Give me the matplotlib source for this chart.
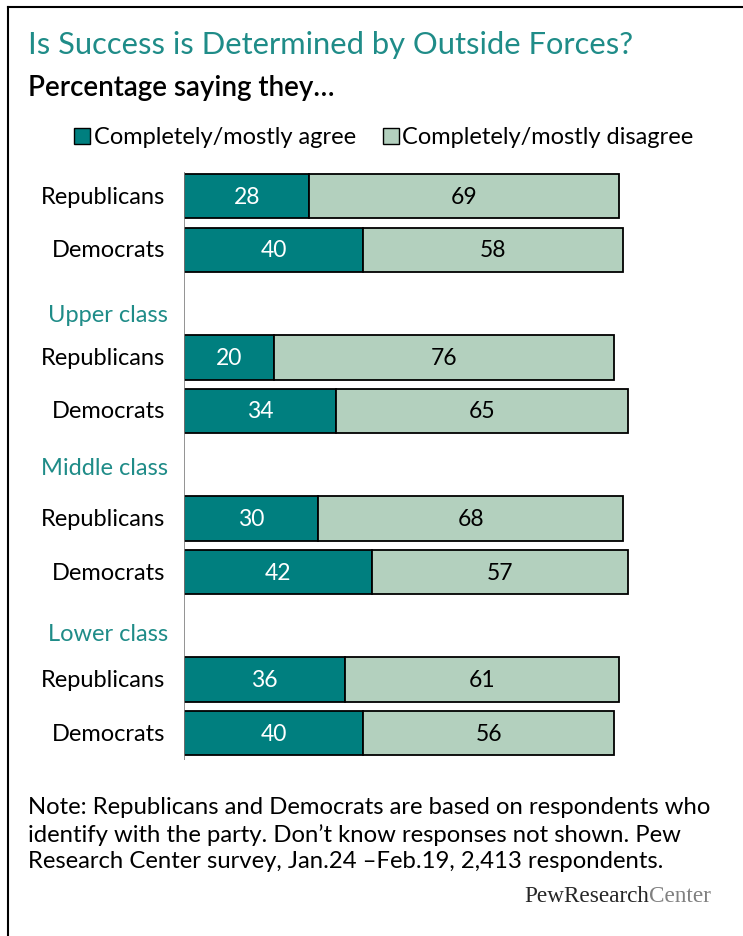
import matplotlib.pyplot as plt
from matplotlib.patches import Rectangle
from matplotlib.lines import Line2D

plt.rcParams['font.family'] = ['Lato', 'DejaVu Sans']

# Data
groups = ['', 'Upper class', 'Middle class', 'Lower class']
parties = ['Republicans', 'Democrats']
agree = [28, 40, 20, 34, 30, 42, 36, 40]
disagree = [69, 58, 76, 65, 68, 57, 61, 56]

teal = '#007f7f'
light = '#b3d0be'
head_color = '#1f8c88'

# row positions: two bars per group, one empty row for the group header
rows = [0, 1, 3, 4, 6, 7, 9, 10]
header_rows = [2.2, 5.05, 8.15]

fig = plt.figure(figsize=(7.43, 9.37), dpi=100)
ax = fig.add_axes([184 / 743, 1 - 761 / 937, 448 / 743, 588 / 937])

ax.barh(rows, agree, height=0.83, color=teal, edgecolor='black', linewidth=1.3)
ax.barh(rows, disagree, left=agree, height=0.83, color=light, edgecolor='black', linewidth=1.3)

for y, a, d in zip(rows, agree, disagree):
    ax.text(a / 2, y, str(a), ha='center', va='center', color='white', fontsize=16.5)
    ax.text(a + d / 2, y, str(d), ha='center', va='center', color='black', fontsize=16.5)

labels = parties * 4
for y, lab in zip(rows, labels):
    ax.text(-4.2, y, lab, ha='right', va='center', fontsize=17, color='black')
for y, lab in zip(header_rows, groups[1:]):
    ax.text(-3.6, y, lab, ha='right', va='center', fontsize=17, color=head_color)

ax.set_xlim(0, 100)
ax.set_ylim(10.5, -0.45)
ax.axis('off')
ax.axvline(0, color='#808080', linewidth=1.2)

# title and subtitle
fig.text(28 / 743, 1 - 45 / 937, 'Is Success is Determined by Outside Forces?',
         fontsize=22.2, color=head_color, va='center', ha='left')
fig.text(28 / 743, 1 - 88 / 937, 'Percentage saying they\u2026',
         fontsize=20, color='black', va='center', ha='left', fontweight='semibold')

# legend
fig.patches.append(Rectangle((74 / 743, 1 - 145 / 937), 16 / 743, 16 / 937,
                             transform=fig.transFigure, facecolor=teal,
                             edgecolor='black', linewidth=1))
fig.text(94 / 743, 1 - 137 / 937, 'Completely/mostly agree', fontsize=17,
         va='center', ha='left')
fig.patches.append(Rectangle((383 / 743, 1 - 145 / 937), 16 / 743, 16 / 937,
                             transform=fig.transFigure, facecolor=light,
                             edgecolor='black', linewidth=1))
fig.text(402 / 743, 1 - 137 / 937, 'Completely/mostly disagree', fontsize=17,
         va='center', ha='left')

# note
note = ("Note: Republicans and Democrats are based on respondents who\n"
        "identify with the party. Don\u2019t know responses not shown. Pew\n"
        "Research Center survey, Jan.24 \u2013Feb.19, 2,413 respondents.")
fig.text(28 / 743, 1 - 797 / 937, note, fontsize=17.2, va='top', ha='left',
         linespacing=1.33)

# logo
fig.text(649 / 743, 1 - 897 / 937, 'PewResearch', fontsize=16.7, ha='right',
         va='center', family='Liberation Serif', color='#262626')
fig.text(649 / 743, 1 - 897 / 937, 'Center', fontsize=16.7, ha='left',
         va='center', family='Liberation Serif', color='#808080')

# frame lines (top and left)
fig.add_artist(Line2D([8 / 743, 1], [1 - 8 / 937, 1 - 8 / 937],
                      transform=fig.transFigure, color='black', linewidth=1.5))
fig.add_artist(Line2D([8 / 743, 8 / 743], [0, 1 - 8 / 937],
                      transform=fig.transFigure, color='black', linewidth=1.5))

fig.savefig('out.png', dpi=100)
